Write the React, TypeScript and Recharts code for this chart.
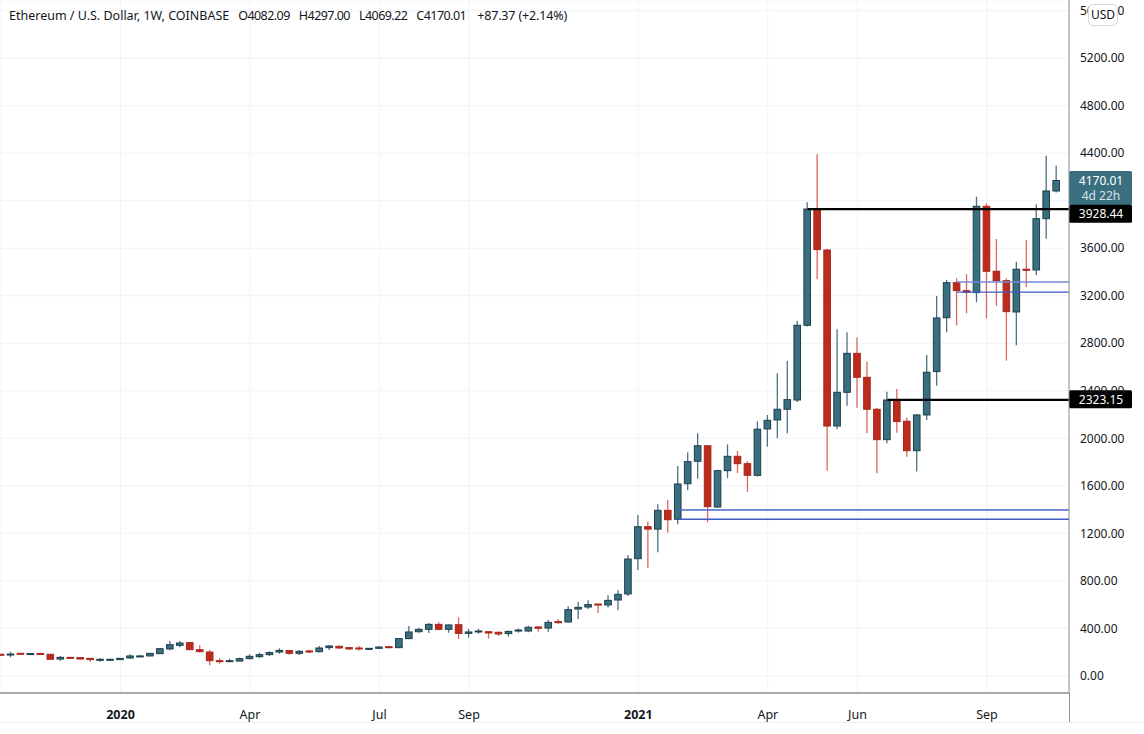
import { Bar, CartesianGrid, ComposedChart, ReferenceLine, XAxis, YAxis } from "recharts";

const FONT = '"Noto Sans", sans-serif';

// weekly candles, oldest first
const opens = [
  181, 175, 189, 183, 188, 181, 141, 155, 153, 147, 130, 133, 136, 150, 161, 167, 186, 226, 256, 279,
  220, 200, 127, 119, 124, 144, 161, 178, 200, 212, 189, 209, 203, 237, 248, 237, 234, 223, 231, 245,
  237, 313, 371, 391, 433, 391, 430, 357, 369, 371, 366, 355, 377, 377, 411, 402, 456, 453, 562, 579,
  604, 596, 638, 689, 986, 1255, 1235, 1393, 1318, 1617, 1806, 1937, 1421, 1727, 1848, 1786, 1688, 2078, 2154, 2244,
  2322, 2951, 3930, 3585, 2103, 2387, 2715, 2513, 2244, 1988, 2322, 2143, 1895, 2196, 2561, 3015, 3310, 3243, 3226, 3953,
  3406, 3327, 3063, 3423, 3417, 3849, 4082.09,
];
const highs = [
  183, 203, 192, 192, 190, 183, 167, 158, 155, 150, 147, 141, 150, 181, 172, 192, 234, 293, 293, 281,
  256, 217, 147, 144, 153, 181, 195, 206, 231, 217, 217, 220, 251, 259, 254, 242, 251, 234, 248, 248,
  318, 419, 405, 444, 450, 433, 492, 394, 394, 377, 374, 380, 397, 422, 416, 470, 478, 585, 624, 635,
  604, 677, 720, 1017, 1354, 1298, 1444, 1480, 1767, 1882, 2042, 1940, 1735, 1949, 1895, 1809, 2143, 2196, 2547, 2651,
  2987, 3987, 4391, 3594, 2918, 2892, 2850, 2645, 2257, 2392, 2415, 2173, 2204, 2701, 3198, 3333, 3347, 3381, 4034, 3978,
  3678, 3347, 3487, 3672, 3970, 4379, 4297,
];
const lows = [
  175, 155, 178, 178, 178, 136, 127, 144, 139, 116, 119, 130, 133, 141, 158, 164, 183, 214, 240, 214,
  197, 88, 102, 119, 122, 139, 150, 167, 186, 178, 175, 192, 197, 217, 226, 217, 212, 220, 226, 232,
  231, 307, 363, 360, 383, 363, 310, 321, 355, 313, 335, 329, 363, 366, 371, 371, 439, 447, 478, 562,
  529, 574, 551, 672, 891, 908, 1040, 1205, 1276, 1564, 1660, 1292, 1415, 1663, 1708, 1548, 1676, 1929, 2000, 2042,
  2305, 2940, 3338, 1727, 2075, 2274, 2257, 2042, 1705, 1958, 2047, 1845, 1719, 2154, 2443, 2892, 2951, 3052, 3145, 3010,
  3114, 2653, 2783, 3271, 3375, 3680, 4069.22,
];
const closes = [
  178, 183, 181, 187, 183, 139, 155, 147, 141, 136, 139, 139, 147, 167, 167, 189, 228, 262, 276, 220,
  203, 127, 122, 127, 144, 164, 178, 195, 214, 189, 206, 200, 234, 251, 234, 226, 226, 231, 242, 237,
  313, 369, 391, 433, 391, 428, 357, 369, 377, 360, 352, 374, 385, 408, 400, 450, 447, 557, 576, 599,
  596, 635, 686, 983, 1255, 1235, 1393, 1314, 1615, 1803, 1937, 1424, 1727, 1848, 1786, 1688, 2076, 2151, 2244, 2325,
  2951, 3930, 3588, 2103, 2387, 2715, 2513, 2244, 1988, 2322, 2140, 1895, 2196, 2556, 3013, 3310, 3243, 3229, 3953, 3406,
  3327, 3066, 3423, 3414, 3849, 4082, 4170.01,
];

const tickWeeks = [12, 25, 38, 47, 64, 77, 86, 99];
const tickLabels = ["2020", "Apr", "Jul", "Sep", "2021", "Apr", "Jun", "Sep"];
const priceTicks = [0, 400, 800, 1200, 1600, 2000, 2400, 2800, 3200, 3600, 4000, 4400, 4800, 5200, 5600];
// these grid levels sit behind a price tag, so their label does not show
const coveredPrices = [4000];

const data = opens.map((open, week) => ({
  week,
  open,
  high: highs[week],
  low: lows[week],
  close: closes[week],
}));

const LAST_X = 107.24;

const Candle = (props: any) => {
  const { x, y, width, height, payload } = props;
  const { open, high, low, close } = payload;
  const up = close >= open;
  const perUnit = height / (high - low);
  const top = y + (high - Math.max(open, close)) * perUnit;
  const bodyH = Math.max(Math.abs(open - close) * perUnit, 1);
  const cx = x + width / 2;
  return (
    <g>
      <line x1={cx} x2={cx} y1={y} y2={y + height} stroke={up ? "#4d7283" : "#d9695e"} strokeWidth={1.3} />
      <rect
        x={cx - 3.3}
        y={top}
        width={6.6}
        height={bodyH}
        fill={up ? "#3a6f80" : "#bd2b1c"}
        stroke={up ? "#1d3f4c" : "#a5281b"}
        strokeWidth={1}
      />
    </g>
  );
};

const WeekTick = (props: any) => {
  const { x, y, payload } = props;
  const label = tickLabels[tickWeeks.indexOf(payload.value)];
  const bold = label === "2020" || label === "2021";
  return (
    <text x={x} y={y + 18} textAnchor="middle" fontFamily={FONT} fontSize={12.5} fontWeight={bold ? 700 : 400} fill="#131722">
      {label}
    </text>
  );
};

const PriceTick = (props: any) => {
  const { x, y, payload } = props;
  if (coveredPrices.includes(payload.value)) return <g />;
  return (
    <text x={x} y={y} dy="0.355em" textAnchor="start" fontFamily={FONT} fontSize={12} fill="#131722">
      {payload.value.toFixed(2)}
    </text>
  );
};

const PriceTag = ({ viewBox, text, sub, fill, dy = 0 }: any) => {
  const h = sub ? 34 : 18;
  const top = viewBox.y - 9.5 + dy;
  return (
    <g fontFamily={FONT} fontSize={12}>
      <rect x={1069} y={top} width={63} height={h} rx={1.5} fill={fill} />
      <text x={1101} y={top + 13.5} textAnchor="middle" fill="#fff">
        {text}
      </text>
      {sub ? (
        <text x={1101} y={top + 28.5} textAnchor="middle" fill="#d5e3e8">
          {sub}
        </text>
      ) : null}
    </g>
  );
};

const Gap = () => <span style={{ display: "inline-block", width: 9 }} />;
const Num = ({ children }: any) => <span style={{ letterSpacing: -0.55 }}>{children}</span>;

export default function App() {
  return (
    <div style={{ position: "absolute", left: 0, top: 0, width: 1144, height: 734, background: "#fff", overflow: "hidden" }}>
      <ComposedChart width={1144} height={722} data={data} margin={{ top: 0, right: 0, bottom: 0, left: 0 }}>
        <CartesianGrid stroke="#f1f3f9" strokeWidth={1} />
        <XAxis
          dataKey="week"
          type="number"
          domain={[-0.1, LAST_X]}
          allowDataOverflow
          ticks={tickWeeks}
          interval={0}
          height={29}
          tick={<WeekTick />}
          tickLine={false}
          axisLine={{ stroke: "#8b8f98", strokeWidth: 1.5 }}
        />
        <YAxis
          orientation="right"
          type="number"
          width={75}
          domain={[-145, 5690]}
          allowDataOverflow
          ticks={priceTicks}
          interval={0}
          tickSize={0}
          tickMargin={11}
          tick={<PriceTick />}
          axisLine={{ stroke: "#8b8f98", strokeWidth: 1 }}
        />
        <ReferenceLine segment={[{ x: 68, y: 1396 }, { x: LAST_X, y: 1396 }]} stroke="#4a66c8" strokeWidth={1.4} />
        <ReferenceLine segment={[{ x: 68, y: 1318 }, { x: LAST_X, y: 1318 }]} stroke="#3f5cc4" strokeWidth={1.4} />
        <ReferenceLine segment={[{ x: 96, y: 3315 }, { x: LAST_X, y: 3315 }]} stroke="#7389d6" strokeWidth={1.4} />
        <ReferenceLine segment={[{ x: 96, y: 3230 }, { x: LAST_X, y: 3230 }]} stroke="#3f5cc4" strokeWidth={1.4} />
        <ReferenceLine segment={[{ x: 81, y: 3928.44 }, { x: LAST_X, y: 3928.44 }]} stroke="#000" strokeWidth={2.2} />
        <ReferenceLine segment={[{ x: 89, y: 2323.15 }, { x: LAST_X, y: 2323.15 }]} stroke="#000" strokeWidth={2.2} />
        <Bar dataKey={(d: any) => [d.low, d.high]} barSize={7} shape={<Candle />} isAnimationActive={false} />
        <ReferenceLine
          y={4170.01}
          stroke="none"
          label={(p: any) => <PriceTag viewBox={p.viewBox} text="4170.01" sub="4d 22h" fill="#3a6f80" />}
        />
        <ReferenceLine
          y={3928.44}
          stroke="none"
          label={(p: any) => <PriceTag viewBox={p.viewBox} text="3928.44" fill="#000" dy={5} />}
        />
        <ReferenceLine
          y={2323.15}
          stroke="none"
          label={(p: any) => <PriceTag viewBox={p.viewBox} text="2323.15" fill="#000" />}
        />
      </ComposedChart>

      <div
        style={{
          position: "absolute",
          left: 9,
          top: 7,
          fontFamily: FONT,
          fontSize: 12.5,
          lineHeight: "18px",
          color: "#131722",
          whiteSpace: "nowrap",
        }}
      >
        Ethereum / U.S. Dollar, 1W, COINBASE
        <Gap />
        <Num>O4082.09</Num>
        <Gap />
        <Num>H4297.00</Num>
        <Gap />
        <Num>L4069.22</Num>
        <Gap />
        <Num>C4170.01</Num>
        <Gap />
        <span style={{ letterSpacing: -0.15, marginLeft: 2 }}>+87.37 (+2.14%)</span>
      </div>
      <div
        style={{
          position: "absolute",
          left: 1088,
          top: 4,
          width: 30,
          height: 22,
          boxSizing: "border-box",
          border: "1px solid #d6d8de",
          borderRadius: 5,
          background: "#fff",
          fontFamily: FONT,
          fontSize: 12,
          lineHeight: "20px",
          textAlign: "center",
          color: "#131722",
        }}
      >
        USD
      </div>
      <div style={{ position: "absolute", left: 1068.5, top: 693, width: 1, height: 29, background: "#8b8f98" }} />
      <div style={{ position: "absolute", left: 0, top: 722, width: 1144, height: 1, background: "#eceef2" }} />
    </div>
  );
}
